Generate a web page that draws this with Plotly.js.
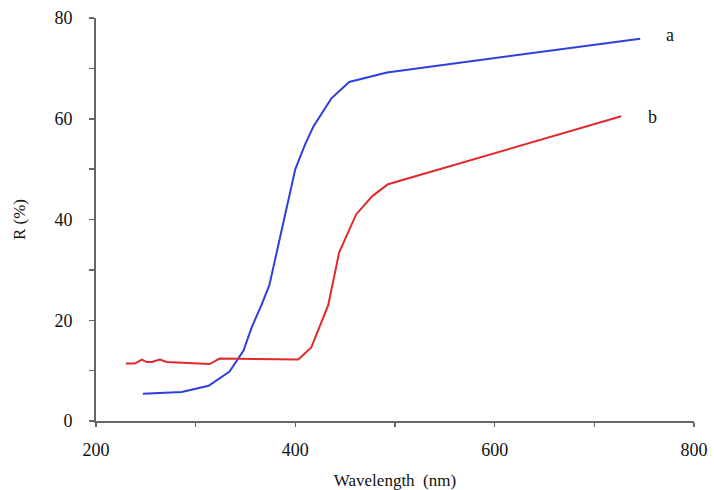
<!DOCTYPE html>
<html>
<head>
<meta charset="utf-8">
<script src="https://cdn.plot.ly/plotly-3.0.1.min.js"></script>
<style>html,body{margin:0;padding:0;background:#fff;}#chart{width:714px;height:490px;}</style>
</head>
<body>
<div id="chart"></div>
<script>
// Curve a (blue)
const waveA = [247, 286, 313, 334, 348, 356, 366, 374, 383, 392, 400, 410, 418, 436, 454, 492, 746];
const reflA = [5.4, 5.75, 7.0, 9.8, 14.0, 18.5, 23.0, 27.0, 35.0, 43.0, 50.0, 55.0, 58.4, 64.0, 67.3, 69.2, 75.9];
// Curve b (red)
const waveB = [230, 239, 246, 251, 256, 264, 271, 314, 324, 403, 416, 433, 444, 461, 477, 493, 727];
const reflB = [11.4, 11.4, 12.2, 11.7, 11.7, 12.2, 11.7, 11.3, 12.4, 12.2, 14.6, 23.0, 33.5, 41.0, 44.6, 47.0, 60.5];
const labels = ['a', 'b'];
const labelX = [776, 758];
const labelY = [76.6, 60.3];
const xTicks = [200, 400, 600, 800];
const yTicks = [0, 20, 40, 60, 80];

const serif = 'Times New Roman';
const traces = [
  {x: waveA, y: reflA, mode: 'lines', line: {color: '#2f3fdc', width: 2}, name: 'a'},
  {x: waveB, y: reflB, mode: 'lines', line: {color: '#e02a2a', width: 2}, name: 'b'}
];
const layout = {
  width: 714, height: 490,
  margin: {l: 96, r: 20, t: 18, b: 69},
  paper_bgcolor: '#fff', plot_bgcolor: '#fff',
  showlegend: false,
  font: {family: serif, color: '#111', size: 17},
  xaxis: {
    range: [200, 800], tickvals: xTicks, ticktext: xTicks.map(String),
    showgrid: false, zeroline: false, showline: true, linecolor: '#666', linewidth: 2,
    ticks: 'outside', ticklen: 4, tickwidth: 1.5, tickcolor: '#666',
    minor: {tickvals: [300, 500, 700], ticks: 'outside', ticklen: 4, tickwidth: 1.5, tickcolor: '#666', showgrid: false},
    ticklabelstandoff: 7,
    tickfont: {family: serif, size: 18, color: '#111'},
    title: {text: 'Wavelength  (nm)', font: {family: serif, size: 17, color: '#111'}, standoff: 20}
  },
  yaxis: {
    range: [0, 80], tickvals: yTicks, ticktext: yTicks.map(String),
    showgrid: false, zeroline: false, showline: true, linecolor: '#666', linewidth: 2,
    ticks: 'outside', ticklen: 5, tickwidth: 1.5, tickcolor: '#666',
    minor: {tickvals: [10, 30, 50, 70], ticks: 'outside', ticklen: 5, tickwidth: 1.5, tickcolor: '#666', showgrid: false},
    ticklabelstandoff: 13,
    tickfont: {family: serif, size: 18, color: '#111'},
    title: {text: 'R (%)', font: {family: serif, size: 17, color: '#111'}, standoff: 24}
  },
  annotations: labels.map((t, i) => ({
    x: labelX[i], y: labelY[i], xref: 'x', yref: 'y', text: t, showarrow: false,
    font: {family: serif, size: 18, color: '#111'}, xanchor: 'center', yanchor: 'middle'
  }))
};
Plotly.newPlot('chart', traces, layout, {displayModeBar: false, staticPlot: true});
</script>
</body>
</html>
